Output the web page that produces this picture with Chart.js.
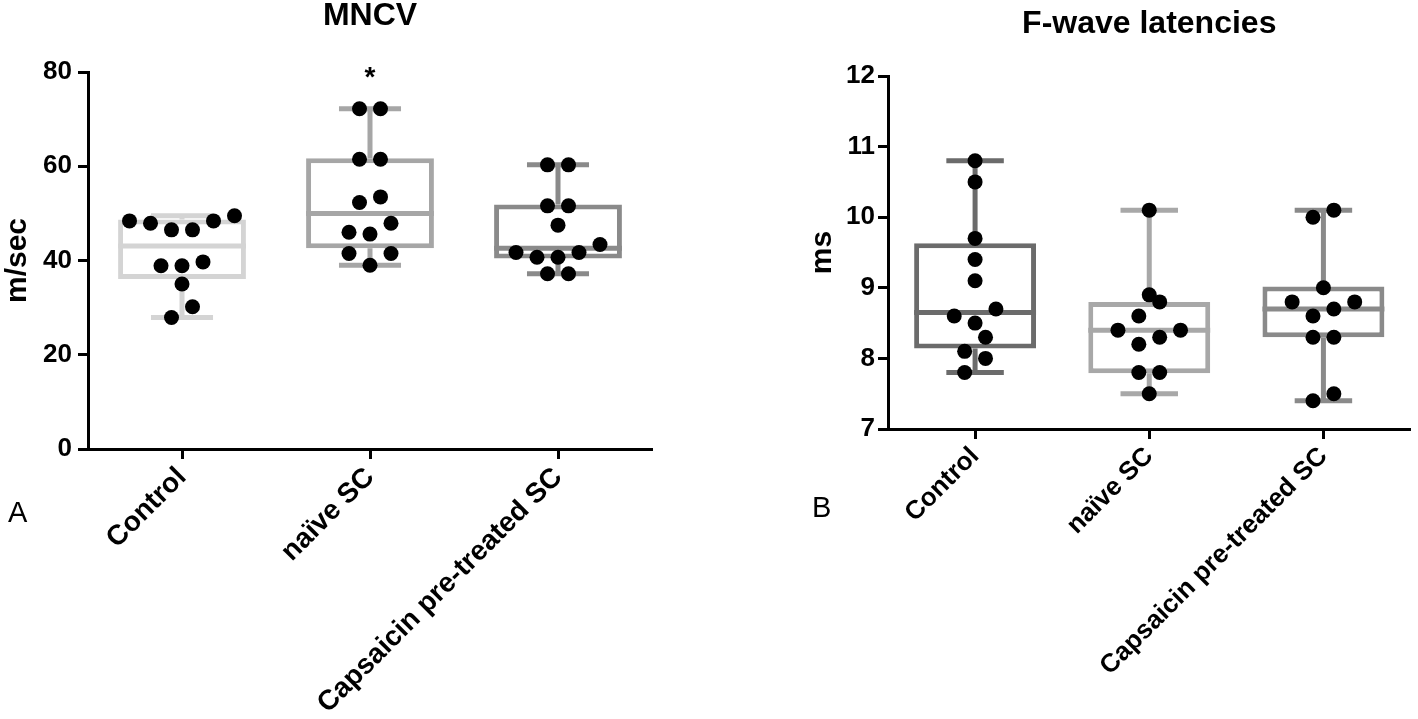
<!DOCTYPE html>
<html lang="en">
<head>
<meta charset="UTF-8">
<title>MNCV and F-wave latencies</title>
<script src="https://cdn.jsdelivr.net/npm/chart.js"></script>
<style>
  html, body { margin: 0; padding: 0; background: #fff; }
  #wrap { position: relative; width: 1418px; height: 719px; overflow: hidden; }
  .panel { position: absolute; top: 0; width: 709px; height: 719px; }
  .tag { position: absolute; font: 29px/29px "Liberation Sans", Arial, sans-serif; color: #000; }
</style>
</head>
<body>
<div id="wrap">
  <div class="panel" style="left:0"><canvas id="mncv"></canvas></div>
  <div class="panel" style="left:709px"><canvas id="fwave"></canvas></div>
  <div class="tag" style="left:8px;top:498px">A</div>
  <div class="tag" style="left:812px;top:493px">B</div>
</div>
<script>
var groups = ['Control', 'naïve SC', 'Capsaicin pre-treated SC'];

// MNCV (m/sec), one value per animal
var mncvControl = [48.4, 47.9, 46.5, 46.5, 48.4, 49.5, 39.7, 38.9, 38.9, 35.0, 30.2, 27.9];
var mncvNaive = [72.2, 72.2, 61.5, 61.5, 53.5, 52.3, 47.9, 46.0, 45.6, 41.5, 41.5, 39.0];
var mncvCaps = [60.3, 60.3, 51.6, 51.6, 47.5, 43.4, 41.7, 40.7, 40.7, 41.7, 37.2, 37.2];
var mncvMin = [27.9, 39.0, 37.2];
var mncvQ1 = [36.1, 42.6, 40.4];
var mncvMedian = [43.1, 50.0, 42.6];
var mncvQ3 = [48.7, 61.7, 51.9];
var mncvMax = [49.5, 72.2, 60.3];
var mncvMarks = ['', '*', ''];
var mncvTicks = [0, 20, 40, 60, 80];

// F-wave latencies (ms)
var fwControl = [10.8, 10.5, 9.7, 9.4, 9.1, 8.7, 8.6, 8.5, 8.3, 8.1, 8.0, 7.8];
var fwNaive = [10.1, 8.9, 8.8, 8.6, 8.4, 8.4, 8.3, 8.2, 7.8, 7.8, 7.5];
var fwCaps = [10.1, 10.0, 9.0, 8.8, 8.7, 8.8, 8.6, 8.3, 8.3, 7.5, 7.4];
var fwMin = [7.8, 7.5, 7.4];
var fwQ1 = [8.14, 7.79, 8.3];
var fwMedian = [8.65, 8.4, 8.7];
var fwQ3 = [9.63, 8.8, 9.02];
var fwMax = [10.8, 10.1, 10.1];
var fwMarks = ['', '', ''];
var fwTicks = [7, 8, 9, 10, 11, 12];

var FONT = '"Liberation Sans", Arial, sans-serif';
Chart.defaults.font.family = FONT;
Chart.defaults.color = '#000';

// whiskers, median line and significance mark on top of the floating bars
var boxPlot = {
  id: 'boxPlot',
  afterDatasetDraw: function (chart, args, opts) {
    if (args.meta.type !== 'bar') return;
    var ctx = chart.ctx, y = chart.scales.y, x = chart.scales.x;
    var catW = x.width / groups.length;
    ctx.save();
    ctx.lineWidth = 5;
    ctx.lineCap = 'butt';
    args.meta.data.forEach(function (bar, i) {
      var cx = x.getPixelForValue(i);
      var half = catW * opts.cap / 2;
      ctx.strokeStyle = opts.colors[i];
      ctx.beginPath();
      ctx.moveTo(cx, y.getPixelForValue(opts.q3[i]));
      ctx.lineTo(cx, y.getPixelForValue(opts.max[i]));
      ctx.moveTo(cx - half, y.getPixelForValue(opts.max[i]));
      ctx.lineTo(cx + half, y.getPixelForValue(opts.max[i]));
      ctx.moveTo(cx, y.getPixelForValue(opts.q1[i]));
      ctx.lineTo(cx, y.getPixelForValue(opts.min[i]));
      ctx.moveTo(cx - half, y.getPixelForValue(opts.min[i]));
      ctx.lineTo(cx + half, y.getPixelForValue(opts.min[i]));
      ctx.moveTo(bar.x - bar.width / 2, y.getPixelForValue(opts.median[i]));
      ctx.lineTo(bar.x + bar.width / 2, y.getPixelForValue(opts.median[i]));
      ctx.stroke();
    });
    ctx.restore();
  },
  afterDraw: function (chart, args, opts) {
    var ctx = chart.ctx, x = chart.scales.x;
    ctx.save();
    ctx.font = 'bold 28px ' + FONT;
    ctx.textAlign = 'center';
    ctx.textBaseline = 'alphabetic';
    opts.marks.forEach(function (m, i) {
      if (m) ctx.fillText(m, x.getPixelForValue(i), chart.chartArea.top + 14);
    });
    ctx.restore();
  }
};

// GraphPad-like swarm: points in the same pixel row are spread around the centre
function swarm(chart, series) {
  var y = chart.scales.y, x = chart.scales.x;
  var catW = x.width / groups.length;
  var STEP = 21, ROW = 15;
  var pts = [];
  series.forEach(function (vals, gi) {
    var order = vals.map(function (v, i) { return i; }).sort(function (a, b) { return vals[a] - vals[b]; });
    var bin = [], startPx = 0;
    function flush() {
      var n = bin.length;
      bin.forEach(function (idx, k) {
        var slot;
        if (n % 2) slot = k % 2 ? -Math.ceil(k / 2) : k / 2;
        else slot = (k % 2 ? 1 : -1) * (Math.floor(k / 2) + 0.5);
        pts.push({ x: gi + slot * STEP / catW, y: vals[idx] });
      });
      bin = [];
    }
    order.forEach(function (idx) {
      var py = y.getPixelForValue(vals[idx]);
      if (bin.length && startPx - py >= ROW) flush();
      if (!bin.length) startPx = py;
      bin.push(idx);
    });
    flush();
  });
  chart.data.datasets[1].data = pts;
  chart.update('none');
}

function makeChart(id, cfg) {
  var chart = new Chart(document.getElementById(id), {
    type: 'bar',
    data: {
      labels: groups,
      datasets: [{
        type: 'bar',
        data: cfg.q1.map(function (v, i) { return [v, cfg.q3[i]]; }),
        backgroundColor: '#fff',
        borderColor: cfg.colors,
        borderWidth: 5,
        borderSkipped: false,
        grouped: false,
        barPercentage: cfg.box,
        categoryPercentage: 1,
        order: 1
      }, {
        type: 'scatter',
        xAxisID: 'xs',
        data: [],
        backgroundColor: '#000',
        borderWidth: 0,
        pointRadius: 7.5,
        order: 0
      }]
    },
    options: {
      responsive: true,
      maintainAspectRatio: false,
      animation: false,
      events: [],
      layout: { padding: cfg.padding },
      scales: {
        x: {
          offset: true,
          grid: { display: true, offset: false, drawOnChartArea: false, tickLength: 10, tickWidth: 3, tickColor: '#000' },
          border: { color: '#000', width: 3 },
          ticks: { minRotation: 45, maxRotation: 45, padding: 2, autoSkip: false, font: { size: cfg.labelSize, weight: 'bold' }, color: '#000' },
          afterFit: function (s) { s.height = cfg.xHeight; }
        },
        xs: { type: 'linear', display: false, offset: false, min: -0.5, max: 2.5 },
        y: {
          min: cfg.ticks[0],
          max: cfg.ticks[cfg.ticks.length - 1],
          afterBuildTicks: function (s) { s.ticks = cfg.ticks.map(function (v) { return { value: v }; }); },
          grid: { display: true, drawOnChartArea: false, tickLength: 10, tickWidth: 3, tickColor: '#000' },
          border: { color: '#000', width: 3 },
          ticks: { padding: cfg.tickPad, font: { size: 26, weight: 'bold' }, color: '#000' },
          title: { display: true, text: cfg.unit, font: { size: 30, weight: 'bold' }, padding: 0, color: '#000' },
          afterFit: function (s) { s.width = cfg.yWidth; }
        }
      },
      plugins: {
        legend: { display: false },
        tooltip: { enabled: false },
        title: {
          display: true,
          text: cfg.title,
          fullSize: false,
          font: { size: 32, weight: 'bold', lineHeight: 1 },
          padding: cfg.titlePad,
          color: '#000'
        },
        boxPlot: {
          colors: cfg.colors, q1: cfg.q1, q3: cfg.q3, min: cfg.min, max: cfg.max,
          median: cfg.median, marks: cfg.marks, cap: 0.33
        }
      }
    },
    plugins: [boxPlot]
  });
  swarm(chart, cfg.series);
  return chart;
}

makeChart('mncv', {
  title: 'MNCV', unit: 'm/sec', ticks: mncvTicks,
  series: [mncvControl, mncvNaive, mncvCaps],
  q1: mncvQ1, q3: mncvQ3, min: mncvMin, max: mncvMax, median: mncvMedian, marks: mncvMarks,
  colors: ['#d4d4d4', '#a6a6a6', '#8a8a8a'],
  box: 0.68, labelSize: 28,
  padding: { left: 0, right: 57, top: 0, bottom: 0 },
  titlePad: { top: 0, bottom: 40 },
  yWidth: 88, xHeight: 270, tickPad: 6
});

makeChart('fwave', {
  title: 'F-wave latencies', unit: 'ms', ticks: fwTicks,
  series: [fwControl, fwNaive, fwCaps],
  q1: fwQ1, q3: fwQ3, min: fwMin, max: fwMax, median: fwMedian, marks: fwMarks,
  colors: ['#6b6b6b', '#a8a8a8', '#8a8a8a'],
  box: 0.7, labelSize: 26,
  padding: { left: 96, right: 4, top: 0, bottom: 0 },
  titlePad: { top: 8, bottom: 36 },
  yWidth: 83, xHeight: 290, tickPad: 3
});
</script>
</body>
</html>
